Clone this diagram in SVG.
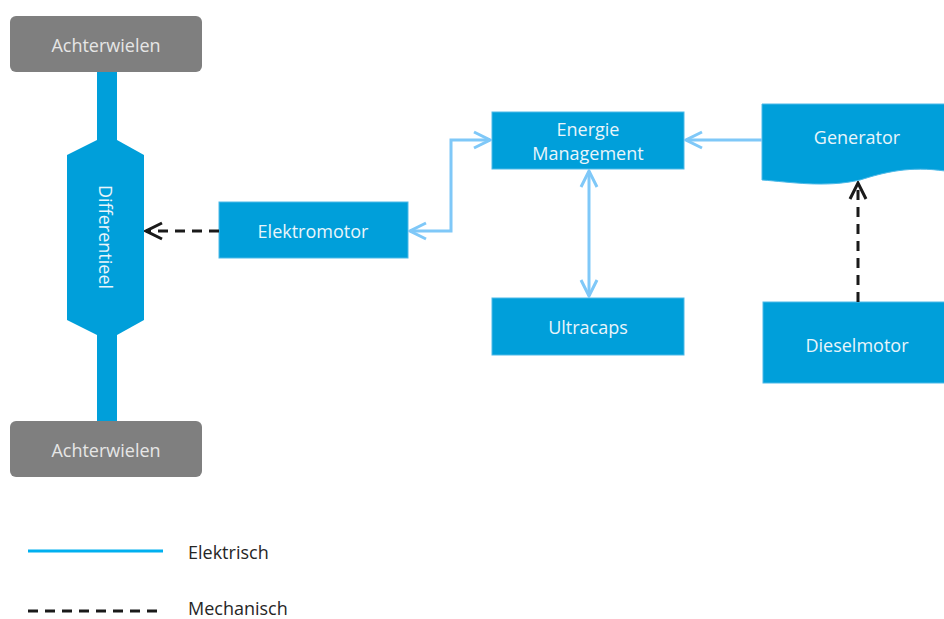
<svg xmlns="http://www.w3.org/2000/svg" width="944" height="619" viewBox="0 0 944 619">
<defs>
<style>
.box{fill:#009fda;stroke:#4cb9e8;stroke-width:1}
.wheel{fill:#7f7f7f}
.t{font-family:"Open Sans","Noto Sans",sans-serif;font-size:18px;fill:#e9f5fb;text-anchor:middle;dominant-baseline:central}
.tw{font-family:"Open Sans","Noto Sans",sans-serif;font-size:18px;fill:#e6e6e6;text-anchor:middle;dominant-baseline:central}
.lg{font-family:"Open Sans","Noto Sans",sans-serif;font-size:18px;fill:#262626;dominant-baseline:central}
.el{fill:none;stroke:#7fc8f8;stroke-width:3}
.me{fill:none;stroke:#1a1a1a;stroke-width:3;stroke-dasharray:10 7}
</style>
<marker id="ab" viewBox="0 0 20 20" refX="18" refY="10" markerWidth="20" markerHeight="20" markerUnits="userSpaceOnUse" orient="auto-start-reverse">
<path d="M2,2 L18,10 L2,18" fill="none" stroke="#7fc8f8" stroke-width="3"/>
</marker>
<marker id="ak" viewBox="0 0 20 20" refX="18" refY="10" markerWidth="20" markerHeight="20" markerUnits="userSpaceOnUse" orient="auto-start-reverse">
<path d="M2,2 L18,10 L2,18" fill="none" stroke="#1a1a1a" stroke-width="3"/>
</marker>
</defs>
<rect width="944" height="619" fill="#ffffff"/>
<g id="shaft"><rect x="97" y="70" width="20" height="353" fill="#009fda"/></g>
<g id="achterwielen-top"><rect class="wheel" x="10" y="16" width="192" height="56" rx="6"/><text class="tw" x="106" y="45">Achterwielen</text></g>
<g id="achterwielen-bottom"><rect class="wheel" x="10" y="421" width="192" height="56" rx="6"/><text class="tw" x="106" y="450">Achterwielen</text></g>
<g id="differentieel"><polygon points="97,140 117,140 144,155 144,320 117,335 97,335 67,320 67,155" fill="#009fda"/><text class="t" transform="translate(106,237) rotate(90)">Differentieel</text></g>
<g id="elektromotor"><rect class="box" x="219" y="202" width="189" height="56"/><text class="t" x="313" y="231">Elektromotor</text></g>
<g id="energie"><rect class="box" x="492" y="112" width="192" height="57"/><text class="t" x="588" y="129">Energie</text><text class="t" x="588" y="153">Management</text></g>
<g id="ultracaps"><rect class="box" x="492" y="298" width="192" height="57"/><text class="t" x="588" y="327">Ultracaps</text></g>
<g id="generator"><path class="box" d="M762,104 L945,104 L945,171 C910,166 885,172 860,180 C825,188 790,182 762,180 Z"/><text class="t" x="857" y="137">Generator</text></g>
<g id="dieselmotor"><rect class="box" x="763" y="302" width="183" height="81"/><text class="t" x="857" y="345">Dieselmotor</text></g>
<g id="connectors">
<line class="me" x1="219" y1="231" x2="146" y2="231" marker-end="url(#ak)"/>
<line class="me" x1="858" y1="302" x2="858" y2="183" marker-end="url(#ak)"/>
<line class="el" x1="762" y1="140" x2="686" y2="140" marker-end="url(#ab)"/>
<polyline class="el" points="410,231 451,231 451,140 490,140" marker-start="url(#ab)" marker-end="url(#ab)"/>
<line class="el" x1="589" y1="171" x2="589" y2="296" marker-start="url(#ab)" marker-end="url(#ab)"/>
</g>
<g id="legend">
<line x1="28" y1="551" x2="163" y2="551" stroke="#00b0f0" stroke-width="3"/>
<text class="lg" x="188" y="552">Elektrisch</text>
<line x1="28" y1="611" x2="158" y2="611" stroke="#1a1a1a" stroke-width="3" stroke-dasharray="10 7"/>
<text class="lg" x="188" y="608">Mechanisch</text>
</g>
</svg>
